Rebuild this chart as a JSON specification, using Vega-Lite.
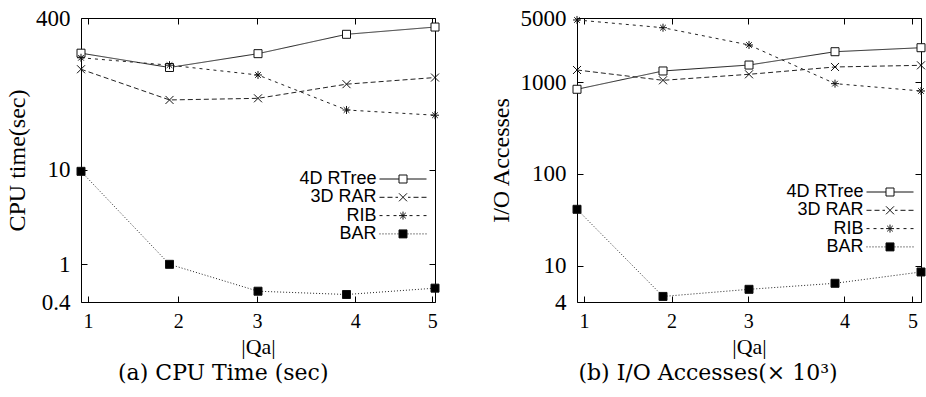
{
  "$schema": "https://vega.github.io/schema/vega-lite/v6.json",
  "padding": {"left": 5, "top": 6, "right": 0, "bottom": 0},
  "background": "white",
  "datasets": {
    "cpu": [
      {"Qa": 1, "method": "4D RTree", "value": 170},
      {"Qa": 2, "method": "4D RTree", "value": 120},
      {"Qa": 3, "method": "4D RTree", "value": 168},
      {"Qa": 4, "method": "4D RTree", "value": 269},
      {"Qa": 5, "method": "4D RTree", "value": 321},
      {"Qa": 1, "method": "3D RAR", "value": 115},
      {"Qa": 2, "method": "3D RAR", "value": 54.5},
      {"Qa": 3, "method": "3D RAR", "value": 56.7},
      {"Qa": 4, "method": "3D RAR", "value": 80},
      {"Qa": 5, "method": "3D RAR", "value": 94},
      {"Qa": 1, "method": "RIB", "value": 152},
      {"Qa": 2, "method": "RIB", "value": 127},
      {"Qa": 3, "method": "RIB", "value": 100},
      {"Qa": 4, "method": "RIB", "value": 42.7},
      {"Qa": 5, "method": "RIB", "value": 37.6},
      {"Qa": 1, "method": "BAR", "value": 9.6},
      {"Qa": 2, "method": "BAR", "value": 1.0},
      {"Qa": 3, "method": "BAR", "value": 0.52},
      {"Qa": 4, "method": "BAR", "value": 0.48},
      {"Qa": 5, "method": "BAR", "value": 0.56}
    ],
    "io": [
      {"Qa": 1, "method": "4D RTree", "value": 835},
      {"Qa": 2, "method": "4D RTree", "value": 1322},
      {"Qa": 3, "method": "4D RTree", "value": 1535},
      {"Qa": 4, "method": "4D RTree", "value": 2145},
      {"Qa": 5, "method": "4D RTree", "value": 2371},
      {"Qa": 1, "method": "3D RAR", "value": 1355},
      {"Qa": 2, "method": "3D RAR", "value": 1046},
      {"Qa": 3, "method": "3D RAR", "value": 1216},
      {"Qa": 4, "method": "3D RAR", "value": 1462},
      {"Qa": 5, "method": "3D RAR", "value": 1524},
      {"Qa": 1, "method": "RIB", "value": 4760},
      {"Qa": 2, "method": "RIB", "value": 3918},
      {"Qa": 3, "method": "RIB", "value": 2540},
      {"Qa": 4, "method": "RIB", "value": 962},
      {"Qa": 5, "method": "RIB", "value": 800},
      {"Qa": 1, "method": "BAR", "value": 41},
      {"Qa": 2, "method": "BAR", "value": 4.6},
      {"Qa": 3, "method": "BAR", "value": 5.5},
      {"Qa": 4, "method": "BAR", "value": 6.4},
      {"Qa": 5, "method": "BAR", "value": 8.5}
    ]
  },
  "bounds": "flush",
  "spacing": 142,
  "resolve": {"scale": {"shape": "independent", "fill": "independent", "strokeDash": "independent"}, "legend": {"shape": "independent", "fill": "independent", "strokeDash": "independent"}},
  "hconcat": [
    {
      "width": 354,
      "height": 284,
      "data": {"name": "cpu"},
      "title": {"text": "(a) CPU Time (sec)", "orient": "bottom", "anchor": "middle", "frame": "bounds", "font": "DejaVu Serif", "fontSize": 22, "fontWeight": "normal", "color": "#000", "offset": 6},
      "layer": [
        {
          "mark": {"type": "line", "color": "#222", "strokeWidth": 1},
          "encoding": {
            "x": {"field": "Qa", "type": "quantitative", "scale": {"domain": [1, 5], "nice": false, "zero": false},
                  "axis": {"orient": "bottom", "values": [1.08, 2.1, 2.99, 4.1, 4.97], "labelExpr": "round(datum.value)", "title": "|Qa|", "labelFontSize": 20, "labelPadding": 15, "titleFontSize": 22, "titlePadding": 5}},
            "y": {"field": "value", "type": "quantitative", "scale": {"type": "log", "domain": [0.4, 400], "nice": false},
                  "axis": {"orient": "left", "values": [0.4, 1, 10, 400], "format": "~g", "title": "CPU time(sec)", "labelFontSize": 23, "labelPadding": 17, "titleFontSize": 24, "titlePadding": 6}},
            "strokeDash": {"field": "method", "type": "nominal", "scale": {"range": [[5, 3], [1, 0], [1, 2], [3, 4]]}, "legend": null}
          }
        },
        {
          "mark": {"type": "point", "stroke": "#111", "strokeWidth": 1, "opacity": 1, "size": 64},
          "encoding": {
            "x": {"field": "Qa", "type": "quantitative", "scale": {"domain": [1, 5], "nice": false, "zero": false},
                  "axis": {"orient": "top", "values": [1.08, 2.1, 2.99, 4.1, 4.97], "labels": false, "title": null}},
            "y": {"field": "value", "type": "quantitative", "scale": {"type": "log", "domain": [0.4, 400], "nice": false},
                  "axis": {"orient": "right", "values": [0.4, 1, 10, 400], "labels": false, "title": null}},
            "fill": {"field": "method", "type": "nominal", "scale": {"domain": ["4D RTree", "3D RAR", "RIB", "BAR"], "range": ["white", "black", "black", "black"]}, "legend": null},
            "shape": {"field": "method", "type": "nominal",
                      "scale": {"domain": ["4D RTree", "3D RAR", "RIB", "BAR"], "range": ["M-1,-1L1,-1L1,1L-1,1Z", "M-1,-1L1,1M-1,1L1,-1", "M-1,0L1,0M0,-1L0,1M-0.7,-0.7L0.7,0.7M-0.7,0.7L0.7,-0.7", "M-1,-1L1,-1L1,1L-1,1Z"]}, "legend": null}
          }
        },
        {
          "transform": [{"filter": "datum.Qa > 99"}],
          "mark": {"type": "point", "stroke": "#111", "strokeWidth": 1, "opacity": 1, "size": 64},
          "encoding": {
            "x": {"field": "Qa", "type": "quantitative", "axis": null},
            "y": {"field": "value", "type": "quantitative", "axis": null},
            "fill": {"field": "method", "type": "nominal", "scale": {"domain": ["4D RTree", "3D RAR", "RIB", "BAR"], "range": ["white", "black", "black", "black"]}},
            "shape": {"field": "method", "type": "nominal",
                      "scale": {"domain": ["4D RTree", "3D RAR", "RIB", "BAR"], "range": [
                        "M-5.875,0L-1,0M1,0L5.875,0M-1,-1L1,-1L1,1L-1,1Z",
                        "M-5.875,0L-4.625,0M-3.875,0L-2.625,0M-1.875,0L-1.25,0M1.25,0L1.875,0M2.625,0L3.875,0M4.625,0L5.875,0M-1,-1L1,1M-1,1L1,-1",
                        "M-5.875,0L-5.125,0M-4.125,0L-3.375,0M-2.375,0L-1.625,0M1.625,0L2.375,0M3.375,0L4.125,0M5.125,0L5.875,0M-1,0L1,0M0,-1L0,1M-0.7,-0.7L0.7,0.7M-0.7,0.7L0.7,-0.7",
                        "M-5.875,0L-5.625,0M-5.125,0L-4.875,0M-4.375,0L-4.125,0M-3.625,0L-3.375,0M-2.875,0L-2.625,0M-2.125,0L-1.875,0M-1.375,0L-1.125,0M1.125,0L1.375,0M1.875,0L2.125,0M2.625,0L2.875,0M3.375,0L3.625,0M4.125,0L4.375,0M4.875,0L5.125,0M5.625,0L5.875,0M-1,-1L1,-1L1,1L-1,1Z"]},
                      "legend": {"orient": "none", "legendX": 313, "legendY": 152, "title": null, "padding": 0, "symbolSize": 64, "symbolStrokeWidth": 1, "labelAlign": "right", "labelOffset": -35.5, "labelFont": "Liberation Sans", "labelFontSize": 18, "labelColor": "#000", "rowPadding": 0.3}}
          }
        }
      ],
      "resolve": {"scale": {"shape": "independent", "fill": "independent"}, "legend": {"shape": "independent", "fill": "independent", "strokeDash": "independent"}, "axis": {"x": "independent", "y": "independent"}}
    },
    {
      "width": 344,
      "height": 284,
      "data": {"name": "io"},
      "title": {"text": "(b) I/O Accesses(× 10³)", "orient": "bottom", "anchor": "middle", "frame": "bounds", "font": "DejaVu Serif", "fontSize": 22, "fontWeight": "normal", "color": "#000", "offset": 6},
      "layer": [
        {
          "mark": {"type": "line", "color": "#222", "strokeWidth": 1},
          "encoding": {
            "x": {"field": "Qa", "type": "quantitative", "scale": {"domain": [1, 5], "nice": false, "zero": false},
                  "axis": {"orient": "bottom", "values": [1.08, 2.1, 2.99, 4.11, 4.9], "labelExpr": "round(datum.value)", "title": "|Qa|", "labelFontSize": 20, "labelPadding": 15, "titleFontSize": 22, "titlePadding": 5}},
            "y": {"field": "value", "type": "quantitative", "scale": {"type": "log", "domain": [4, 5000], "nice": false},
                  "axis": {"orient": "left", "values": [4, 10, 100, 1000, 5000], "format": "~g", "title": "I/O Accesses", "labelFontSize": 23, "labelPadding": 17, "titleFontSize": 24, "titlePadding": 7}},
            "strokeDash": {"field": "method", "type": "nominal", "scale": {"range": [[5, 3], [1, 0], [1, 2], [3, 4]]}, "legend": null}
          }
        },
        {
          "mark": {"type": "point", "stroke": "#111", "strokeWidth": 1, "opacity": 1, "size": 64},
          "encoding": {
            "x": {"field": "Qa", "type": "quantitative", "scale": {"domain": [1, 5], "nice": false, "zero": false},
                  "axis": {"orient": "top", "values": [1.08, 2.1, 2.99, 4.11, 4.9], "labels": false, "title": null}},
            "y": {"field": "value", "type": "quantitative", "scale": {"type": "log", "domain": [4, 5000], "nice": false},
                  "axis": {"orient": "right", "values": [4, 10, 100, 1000, 5000], "labels": false, "title": null}},
            "fill": {"field": "method", "type": "nominal", "scale": {"domain": ["4D RTree", "3D RAR", "RIB", "BAR"], "range": ["white", "black", "black", "black"]}, "legend": null},
            "shape": {"field": "method", "type": "nominal",
                      "scale": {"domain": ["4D RTree", "3D RAR", "RIB", "BAR"], "range": ["M-1,-1L1,-1L1,1L-1,1Z", "M-1,-1L1,1M-1,1L1,-1", "M-1,0L1,0M0,-1L0,1M-0.7,-0.7L0.7,0.7M-0.7,0.7L0.7,-0.7", "M-1,-1L1,-1L1,1L-1,1Z"]}, "legend": null}
          }
        },
        {
          "transform": [{"filter": "datum.Qa > 99"}],
          "mark": {"type": "point", "stroke": "#111", "strokeWidth": 1, "opacity": 1, "size": 64},
          "encoding": {
            "x": {"field": "Qa", "type": "quantitative", "axis": null},
            "y": {"field": "value", "type": "quantitative", "axis": null},
            "fill": {"field": "method", "type": "nominal", "scale": {"domain": ["4D RTree", "3D RAR", "RIB", "BAR"], "range": ["white", "black", "black", "black"]}},
            "shape": {"field": "method", "type": "nominal",
                      "scale": {"domain": ["4D RTree", "3D RAR", "RIB", "BAR"], "range": [
                        "M-5.875,0L-1,0M1,0L5.875,0M-1,-1L1,-1L1,1L-1,1Z",
                        "M-5.875,0L-4.625,0M-3.875,0L-2.625,0M-1.875,0L-1.25,0M1.25,0L1.875,0M2.625,0L3.875,0M4.625,0L5.875,0M-1,-1L1,1M-1,1L1,-1",
                        "M-5.875,0L-5.125,0M-4.125,0L-3.375,0M-2.375,0L-1.625,0M1.625,0L2.375,0M3.375,0L4.125,0M5.125,0L5.875,0M-1,0L1,0M0,-1L0,1M-0.7,-0.7L0.7,0.7M-0.7,0.7L0.7,-0.7",
                        "M-5.875,0L-5.625,0M-5.125,0L-4.875,0M-4.375,0L-4.125,0M-3.625,0L-3.375,0M-2.875,0L-2.625,0M-2.125,0L-1.875,0M-1.375,0L-1.125,0M1.125,0L1.375,0M1.875,0L2.125,0M2.625,0L2.875,0M3.375,0L3.625,0M4.125,0L4.375,0M4.875,0L5.125,0M5.625,0L5.875,0M-1,-1L1,-1L1,1L-1,1Z"]},
                      "legend": {"orient": "none", "legendX": 304, "legendY": 165, "title": null, "padding": 0, "symbolSize": 64, "symbolStrokeWidth": 1, "labelAlign": "right", "labelOffset": -35.5, "labelFont": "Liberation Sans", "labelFontSize": 18, "labelColor": "#000", "rowPadding": 0.3}}
          }
        }
      ],
      "resolve": {"scale": {"shape": "independent", "fill": "independent"}, "legend": {"shape": "independent", "fill": "independent", "strokeDash": "independent"}, "axis": {"x": "independent", "y": "independent"}}
    }
  ],
  "config": {
    "view": {"stroke": "#000", "strokeWidth": 1},
    "axis": {"grid": false, "domain": false, "tickColor": "#000", "tickSize": -6, "tickWidth": 1, "labelColor": "#000", "titleColor": "#000", "labelFont": "Liberation Serif", "titleFont": "Liberation Serif", "titleFontWeight": "normal", "labelFlush": false, "labelOverlap": false, "labelBound": false}
  }
}
